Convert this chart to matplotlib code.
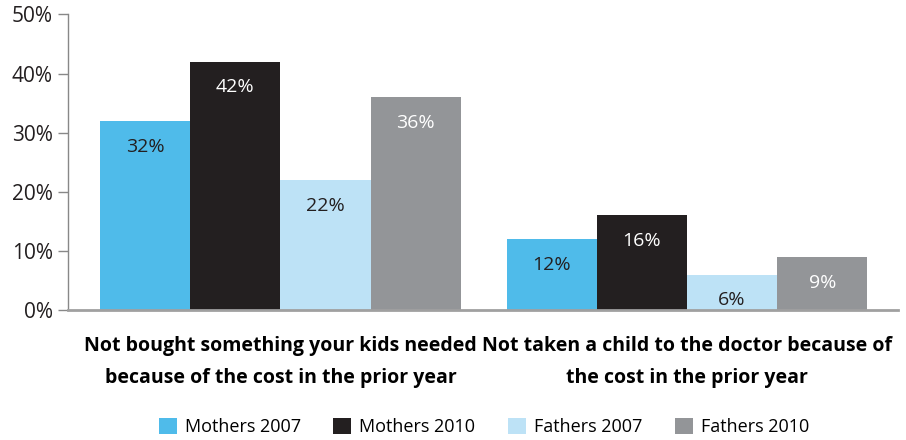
import numpy as np
import matplotlib.pyplot as plt

plt.rcParams['font.family'] = ['Open Sans', 'DejaVu Sans']

categories = ['Not bought something your kids needed\nbecause of the cost in the prior year',
              'Not taken a child to the doctor because of\nthe cost in the prior year']
series = ['Mothers 2007', 'Mothers 2010', 'Fathers 2007', 'Fathers 2010']
values = [
    [32, 12],   # Mothers 2007
    [42, 16],   # Mothers 2010
    [22, 6],    # Fathers 2007
    [36, 9],    # Fathers 2010
]
colors = ['#4FBBEA', '#231F20', '#BDE2F6', '#939598']
label_colors = ['#231F20', 'white', '#231F20', 'white']
yticks = [0, 10, 20, 30, 40, 50]


def main():
    fig = plt.figure(figsize=(9.06, 4.4), dpi=100)
    ax = fig.add_axes([68 / 906, 1 - 310 / 440, 830 / 906, 295.5 / 440])

    group_x = np.array([0, 4.51])
    offsets = [-1.5, -0.5, 0.5, 1.5]

    for i, name in enumerate(series):
        xs = group_x + offsets[i]
        ax.bar(xs, values[i], width=1.0, color=colors[i], label=name, zorder=2)
        for x, v in zip(xs, values[i]):
            ax.annotate(f'{v}%', (x, v), xytext=(0, -18.5), textcoords='offset points',
                        ha='center', va='center', fontsize=14, color=label_colors[i])

    ax.set_xlim(-2.356, 6.85)
    ax.set_ylim(0, 50)
    ax.set_yticks(yticks)
    ax.set_yticklabels([f'{t}%' for t in yticks], fontsize=15, color='#231F20')
    ax.set_xticks(group_x)
    ax.set_xticklabels(categories, fontsize=14, fontweight='bold', color='black', linespacing=1.8)
    ax.tick_params(axis='x', length=0, pad=19)
    ax.tick_params(axis='y', length=7, width=1, color='#888888', pad=4)

    for side in ['top', 'right']:
        ax.spines[side].set_visible(False)
    ax.spines['left'].set_color('#888888')
    ax.spines['left'].set_linewidth(1)
    ax.spines['bottom'].set_color('#A0A0A0')
    ax.spines['bottom'].set_linewidth(2)

    fig.legend(loc='center', bbox_to_anchor=(484 / 906, 1 - 427 / 440), ncol=4,
               frameon=False, fontsize=13, handlelength=1.0, handleheight=1.0,
               handletextpad=0.45, columnspacing=1.8, borderpad=0)

    fig.savefig('out.png', dpi=100)


if __name__ == '__main__':
    main()
